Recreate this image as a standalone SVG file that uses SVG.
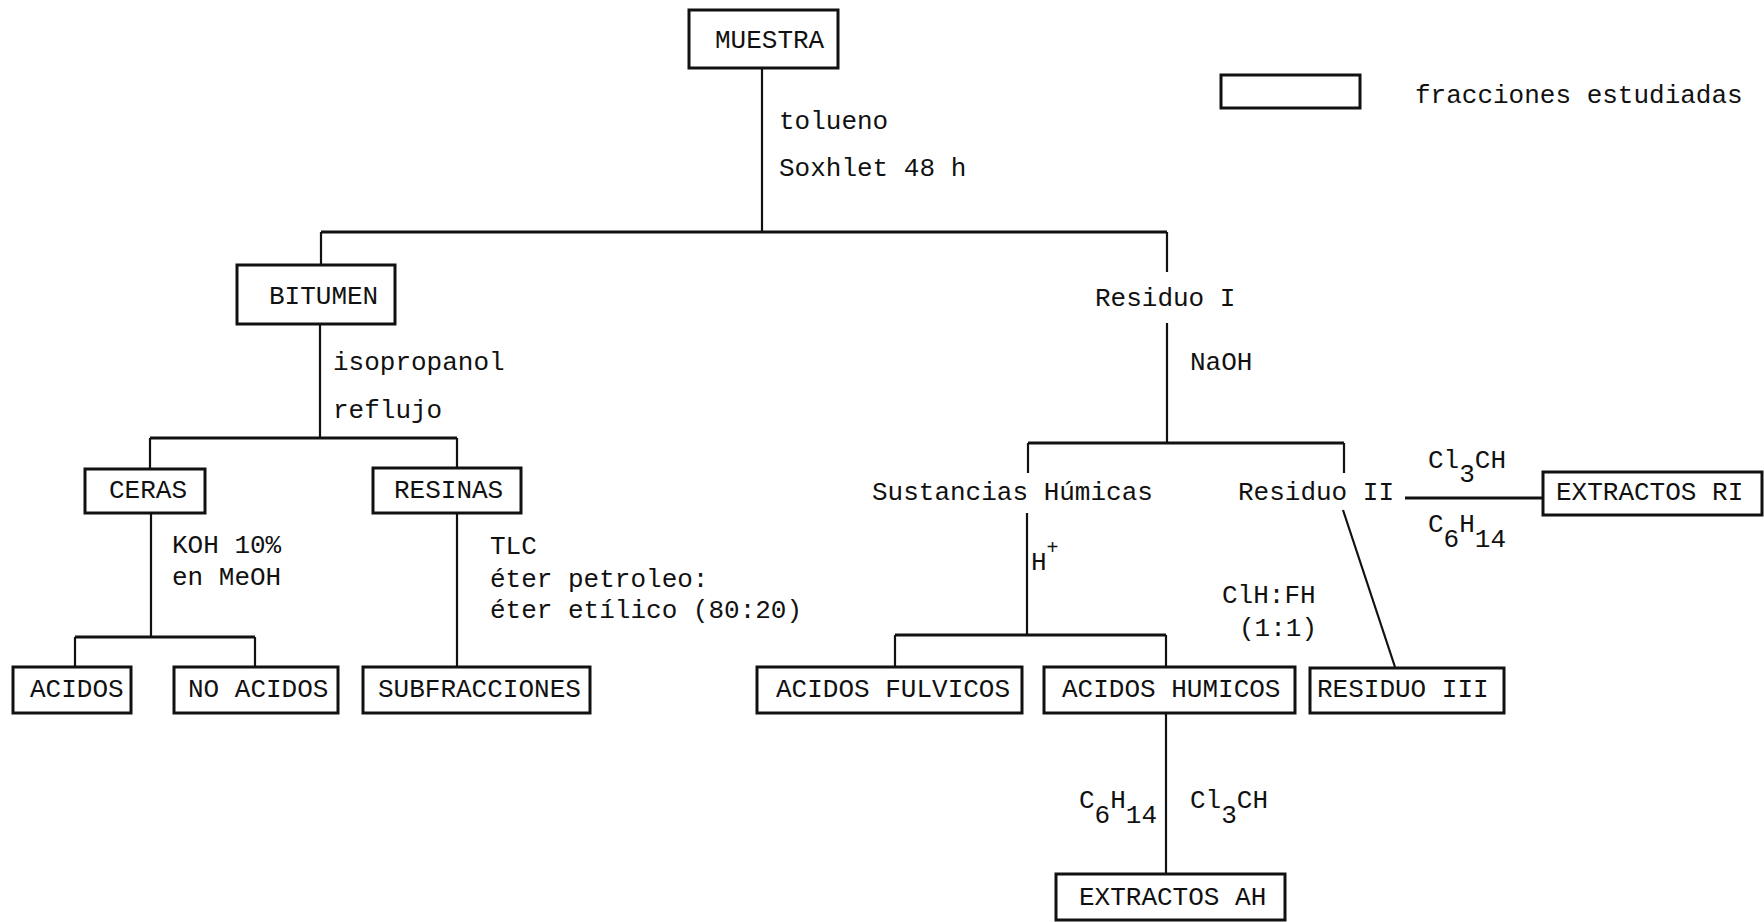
<svg xmlns="http://www.w3.org/2000/svg" width="1764" height="922" viewBox="0 0 1764 922">
<style>
text{font-family:"Liberation Mono","Courier New",monospace;font-size:26px;fill:#111}
.box{fill:#fff;stroke:#111;stroke-width:3}
.c{stroke:#111;stroke-width:2.2;fill:none}
.bar{stroke:#111;stroke-width:3;fill:none}
</style>
<rect width="1764" height="922" fill="#fff"/>
<g id="connectors">
<path class="c" d="M762 68V232"/>
<path class="bar" d="M321 232H1167"/>
<path class="c" d="M321 232V265M1167 232V272"/>
<path class="c" d="M320 324V438"/>
<path class="bar" d="M150 438H457"/>
<path class="c" d="M150 438V469M457 438V468"/>
<path class="c" d="M151 513V637"/>
<path class="bar" d="M75 637H255"/>
<path class="c" d="M75 637V667M255 637V667"/>
<path class="c" d="M457 513V667"/>
<path class="c" d="M1167 323V443"/>
<path class="bar" d="M1028 443H1344"/>
<path class="c" d="M1028 443V473M1344 443V473"/>
<path class="bar" d="M1405 498H1543"/>
<path class="c" d="M1027 513V635"/>
<path class="bar" d="M895 635H1166"/>
<path class="c" d="M895 635V667M1166 635V667"/>
<path class="c" d="M1343 510L1395 667"/>
<path class="c" d="M1166 713V874"/>
</g>
<g id="legend">
<rect class="box" x="1221" y="75" width="139" height="33"/>
<text x="1415" y="103">fracciones estudiadas</text>
</g>
<g id="muestra"><rect class="box" x="689" y="10" width="149" height="58"/><text x="715" y="48">MUESTRA</text></g>
<g id="lbl-tolueno"><text x="779" y="129">tolueno</text><text x="779" y="176">Soxhlet 48 h</text></g>
<g id="bitumen"><rect class="box" x="237" y="265" width="158" height="59"/><text x="269" y="304">BITUMEN</text></g>
<g id="lbl-iso"><text x="333" y="370">isopropanol</text><text x="333" y="418">reflujo</text></g>
<g id="residuo1"><text x="1095" y="306">Residuo I</text></g>
<g id="lbl-naoh"><text x="1190" y="370">NaOH</text></g>
<g id="ceras"><rect class="box" x="85" y="469" width="120" height="44"/><text x="109" y="498">CERAS</text></g>
<g id="resinas"><rect class="box" x="373" y="468" width="148" height="45"/><text x="394" y="498">RESINAS</text></g>
<g id="lbl-koh"><text x="172" y="553">KOH 10%</text><text x="172" y="585">en MeOH</text></g>
<g id="lbl-tlc"><text x="490" y="554">TLC</text><text x="490" y="587">éter petroleo:</text><text x="490" y="618">éter etílico (80:20)</text></g>
<g id="acidos"><rect class="box" x="13" y="667" width="118" height="46"/><text x="30" y="697">ACIDOS</text></g>
<g id="noacidos"><rect class="box" x="174" y="667" width="164" height="46"/><text x="188" y="697">NO ACIDOS</text></g>
<g id="subfracciones"><rect class="box" x="363" y="667" width="227" height="46"/><text x="378" y="697">SUBFRACCIONES</text></g>
<g id="sustancias"><text x="872" y="500">Sustancias Húmicas</text></g>
<g id="residuo2"><text x="1238" y="500">Residuo II</text></g>
<g id="lbl-ri"><text x="1428" y="468">Cl<tspan dy="14">3</tspan><tspan dy="-14">CH</tspan></text><text x="1428" y="532">C<tspan dy="15">6</tspan><tspan dy="-15">H</tspan><tspan dy="15">14</tspan></text></g>
<g id="extractosri"><rect class="box" x="1543" y="472" width="219" height="43"/><text x="1556" y="500">EXTRACTOS RI</text></g>
<g id="lbl-h"><text x="1031" y="570">H<tspan dy="-16" font-size="20">+</tspan></text></g>
<g id="lbl-clh"><text x="1222" y="603">ClH:FH</text><text x="1239" y="636">(1:1)</text></g>
<g id="fulvicos"><rect class="box" x="757" y="667" width="265" height="46"/><text x="776" y="697">ACIDOS FULVICOS</text></g>
<g id="humicos"><rect class="box" x="1044" y="667" width="251" height="46"/><text x="1062" y="697">ACIDOS HUMICOS</text></g>
<g id="residuo3"><rect class="box" x="1310" y="668" width="194" height="45"/><text x="1317" y="697">RESIDUO III</text></g>
<g id="lbl-ah"><text x="1079" y="808">C<tspan dy="15">6</tspan><tspan dy="-15">H</tspan><tspan dy="15">14</tspan></text><text x="1190" y="808">Cl<tspan dy="15">3</tspan><tspan dy="-15">CH</tspan></text></g>
<g id="extractosah"><rect class="box" x="1056" y="874" width="229" height="46"/><text x="1079" y="905">EXTRACTOS AH</text></g>
</svg>
